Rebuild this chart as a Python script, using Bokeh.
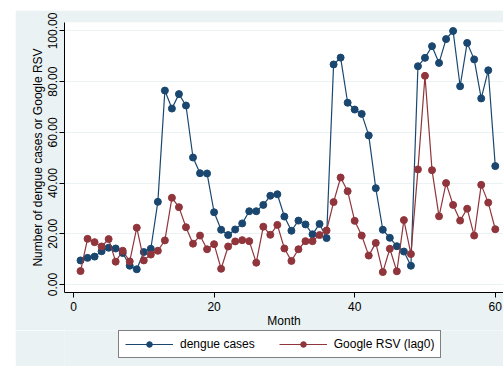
from bokeh.plotting import figure
from bokeh.models import Legend, LegendItem, PrintfTickFormatter, FixedTicker, Range1d
from bokeh.layouts import column
from bokeh.embed import file_html
from bokeh.resources import INLINE

months = list(range(1, 61))
dengue = [9.5, 10.5, 11.0, 13.1, 14.5, 14.2, 12.4, 7.4, 6.0, 12.8,
          14.1, 32.6, 76.5, 69.4, 75.1, 70.6, 50.1, 43.9, 43.8, 28.5,
          21.6, 19.5, 21.7, 24.1, 28.9, 28.9, 31.4, 35.0, 35.6, 26.8,
          21.2, 25.2, 23.7, 19.8, 23.9, 18.3, 86.8, 89.5, 71.7, 69.0,
          67.3, 58.8, 38.0, 21.6, 18.4, 15.1, 13.0, 7.4, 86.1, 89.4,
          94.0, 87.4, 96.8, 100.0, 78.2, 95.3, 88.8, 73.4, 84.5, 46.7]
rsv = [5.3, 18.0, 16.7, 15.0, 17.9, 9.0, 13.3, 9.1, 22.4, 9.5,
       11.8, 13.3, 17.4, 34.2, 30.5, 22.6, 16.1, 19.3, 13.9, 15.9,
       6.2, 15.0, 17.0, 17.5, 17.1, 8.6, 22.8, 19.6, 23.5, 14.2,
       9.3, 13.9, 17.1, 17.1, 19.5, 21.3, 32.5, 42.2, 36.8, 25.1,
       19.3, 11.4, 16.4, 4.9, 14.1, 5.2, 25.4, 12.0, 45.4, 82.3,
       45.1, 26.9, 40.0, 31.4, 25.2, 29.9, 19.3, 39.3, 32.3, 21.8]
x_ticks = [0, 20, 40, 60]
y_ticks = [0, 20, 40, 60, 80, 100]
series_names = ["dengue cases", "Google RSV (lag0)"]

BLUE = "#1a476f"
RED = "#90353b"
BG = "#eaf2f3"
FONT = "Liberation Sans"

p = figure(frame_width=439, frame_height=270, output_backend="svg", toolbar_location=None,
           x_range=Range1d(-1.28, 61.17), y_range=Range1d(-3.16, 103.35),
           min_border_left=49, min_border_top=12, min_border_right=0,
           min_border_bottom=0, margin=(10, 0, 0, 15))
p.background_fill_color = "white"
p.border_fill_color = BG
p.outline_line_color = None

p.xgrid.grid_line_color = None
p.ygrid.grid_line_color = BG
p.ygrid.grid_line_width = 1

p.xaxis.ticker = FixedTicker(ticks=x_ticks)
p.yaxis.ticker = FixedTicker(ticks=y_ticks)
p.yaxis.formatter = PrintfTickFormatter(format="%.2f")
p.yaxis.major_label_orientation = "vertical"
for ax in (p.xaxis, p.yaxis):
    ax.minor_tick_line_color = None
    ax.major_tick_out = 5
    ax.major_tick_in = 0
    ax.axis_line_color = "black"
    ax.major_tick_line_color = "black"
    ax.major_label_text_font = FONT
    ax.major_label_text_font_size = "12px"
    ax.major_label_text_color = "black"
    ax.axis_label_text_font = FONT
    ax.axis_label_text_font_size = "12px"
    ax.axis_label_text_font_style = "normal"
    ax.axis_label_text_color = "black"
p.xaxis.axis_label = "Month"
p.yaxis.axis_label = "Number of dengue cases or Google RSV"
p.xaxis.major_label_standoff = 4
p.xaxis.axis_label_standoff = 0
p.yaxis.major_label_standoff = 2
p.yaxis.axis_label_standoff = 1

p.line(months, dengue, line_color=BLUE, line_width=1.2)
p.scatter(months, dengue, size=7, fill_color=BLUE, line_color=BLUE)
p.line(months, rsv, line_color=RED, line_width=1.2)
p.scatter(months, rsv, size=7, fill_color=RED, line_color=RED)

# Separate strip below the chart that holds the legend
lf = figure(width=488, height=36, output_backend="svg", toolbar_location=None,
            x_range=Range1d(1000, 1001), y_range=Range1d(1000, 1001),
            min_border=0, margin=(0, 0, 0, 15))
lf.axis.visible = False
lf.grid.visible = False
lf.outline_line_color = None
lf.background_fill_color = BG
lf.border_fill_color = BG
l1 = lf.line(months, dengue, line_color=BLUE, line_width=1.2)
s1 = lf.scatter(months, dengue, size=7, fill_color=BLUE, line_color=BLUE)
l2 = lf.line(months, rsv, line_color=RED, line_width=1.2)
s2 = lf.scatter(months, rsv, size=7, fill_color=RED, line_color=RED)

legend = Legend(items=[LegendItem(label=series_names[0], renderers=[l1, s1]),
                       LegendItem(label=series_names[1], renderers=[l2, s2])],
                orientation="horizontal", location=(54, 8))
legend.glyph_width = 48
legend.glyph_height = 14
legend.label_standoff = 7
legend.spacing = 24
legend.padding = 6
legend.margin = 0
legend.border_line_color = "black"
legend.border_line_width = 1
legend.background_fill_color = "white"
legend.background_fill_alpha = 1
legend.label_text_font = FONT
legend.label_text_font_size = "12px"
legend.label_text_color = "black"
lf.add_layout(legend, "center")

layout = column(p, lf, spacing=0)
open("out.html", "w").write(file_html(layout, INLINE))
